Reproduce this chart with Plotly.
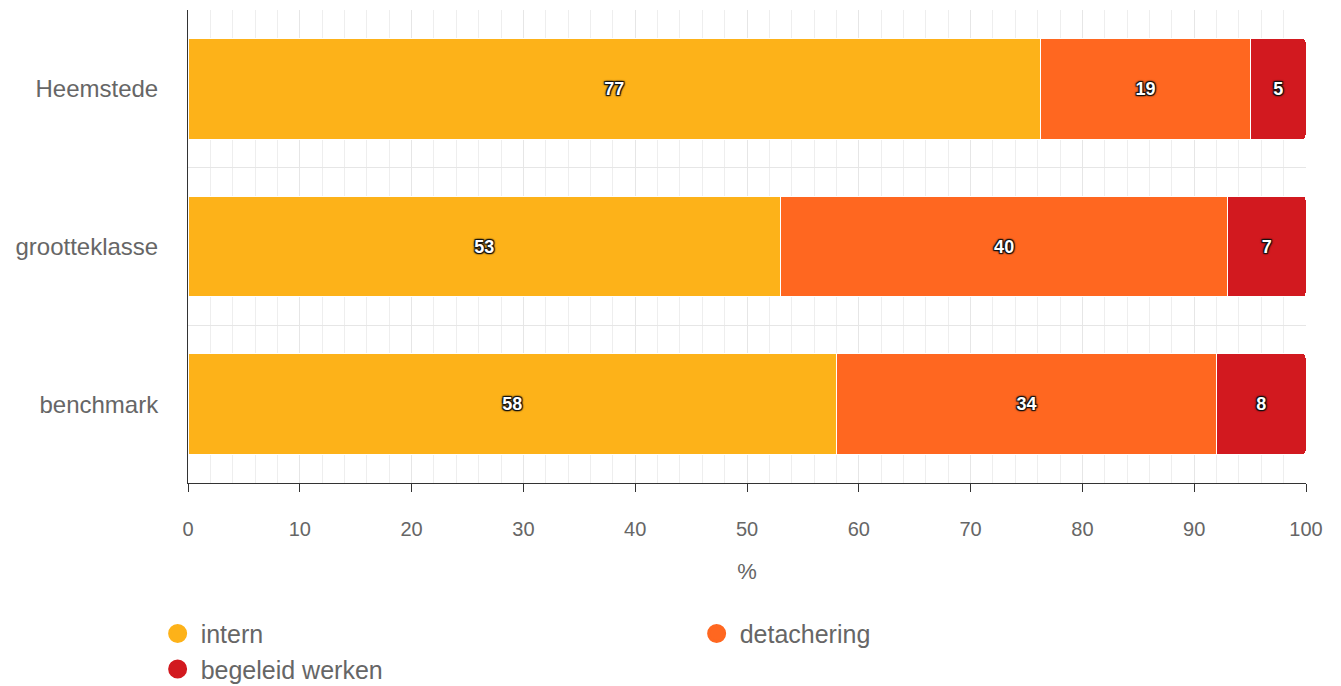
import plotly.graph_objects as go

categories = ["Heemstede", "grootteklasse", "benchmark"]
series_names = ["intern", "detachering", "begeleid werken"]
intern = [77, 53, 58]
detachering = [19, 40, 34]
begeleid = [5, 7, 8]
colors = ["#FDB219", "#FF6720", "#D2191F"]
x_ticks = [0, 10, 20, 30, 40, 50, 60, 70, 80, 90, 100]

fig = go.Figure()
shadow = "1px 1px 1px #111, -1px -1px 1px #111, 1px -1px 1px #111, -1px 1px 1px #111, 0px 0px 3px #000"
for name, vals, col in zip(series_names, [intern, detachering, begeleid], colors):
    fig.add_trace(go.Bar(
        y=categories, x=vals, name=name, orientation="h",
        marker=dict(color=col, line=dict(color="white", width=1)),
        text=[str(v) for v in vals], texttemplate="%{text}",
        textposition="inside", insidetextanchor="middle", textangle=0,
        textfont=dict(family="Liberation Sans", size=18, color="white", weight="bold", shadow=shadow),
        showlegend=False, hoverinfo="skip",
    ))
for name, col in zip(series_names, colors):
    fig.add_trace(go.Scatter(
        x=[None], y=[None], mode="markers", name=name,
        marker=dict(symbol="circle", size=16, color=col, line=dict(color=col, width=3)),
        showlegend=True,
    ))

fig.update_layout(
    width=1333, height=678,
    barmode="stack", barnorm="percent", bargap=0.36, barcornerradius=4,
    plot_bgcolor="white", paper_bgcolor="white",
    margin=dict(l=180, r=35, t=2, b=203),
    font=dict(family="Liberation Sans", color="#666666"),
    xaxis=dict(
        range=[0, 100], tickvals=x_ticks, ticks="outside", ticklen=8, tickcolor="#333333",
        showline=True, linecolor="#333333", linewidth=1,
        showgrid=True, gridcolor="#e6e6e6", gridwidth=1,
        minor=dict(dtick=2, tick0=0, showgrid=True, gridcolor="#eeeeee", gridwidth=1, ticks=""),
        tickfont=dict(size=20, color="#666666"), ticklabelstandoff=20,
        title=dict(text="%", font=dict(size=22, color="#666666"), standoff=24),
        zeroline=False, fixedrange=True,
    ),
    yaxis=dict(
        type="category", categoryorder="array", categoryarray=categories, autorange="reversed",
        tickson="boundaries", showgrid=True, gridcolor="#e6e6e6", gridwidth=1,
        showline=True, linecolor="#333333", linewidth=1, ticks="", ticklabelstandoff=24,
        tickfont=dict(size=24, color="#666666"), zeroline=False, fixedrange=True,
    ),
    legend=dict(
        orientation="h", xref="container", yref="container", x=0.110, y=0.111,
        xanchor="left", yanchor="top", entrywidth=488, entrywidthmode="pixels",
        font=dict(size=25, color="#666666"), itemsizing="trace", traceorder="normal",
        itemwidth=36, tracegroupgap=0,
    ),
)

fig.write_html("out.html")
